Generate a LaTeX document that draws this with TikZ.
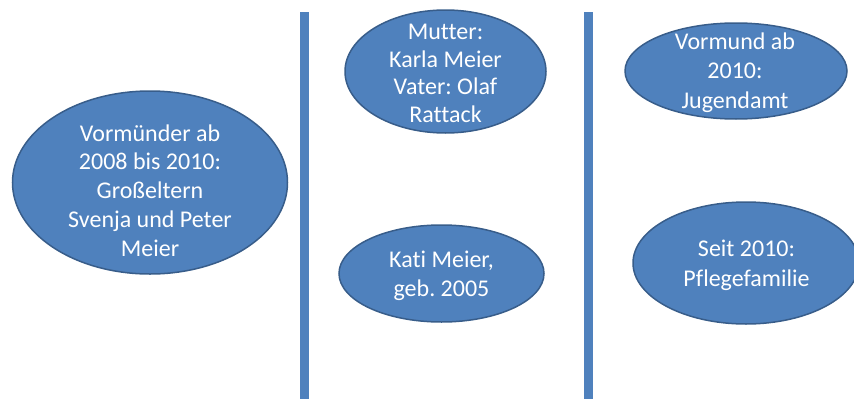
\documentclass[tikz,border=0pt]{standalone}
\usepackage{fontspec}
\setmainfont{Carlito}[Ligatures={NoCommon}]
\frenchspacing
\usetikzlibrary{shapes.geometric}
\definecolor{officeblue}{HTML}{4F81BD}
\definecolor{officeborder}{HTML}{385D8A}
\tikzset{
  bubble/.style={ellipse, draw=officeborder, fill=officeblue, line width=1.5pt,
    inner sep=0pt, text=white, align=center,
    font=\fontsize{24}{29}\selectfont},
  bar/.style={fill=officeblue, draw=none}
}
\begin{document}
\begin{tikzpicture}[x=1pt,y=-1pt]
\useasboundingbox (0,0) rectangle (854,399);
\clip (0,0) rectangle (854,399);
% vertical bars
\fill[bar] (300,12) rectangle (309,399);
\fill[bar] (584,12) rectangle (593,399);
% ellipses
\node[bubble, minimum width=275pt, minimum height=183pt] (grand) at (150,182.5) {};
\node[font=\fontsize{24}{28.8}\selectfont, text=white, align=center] (grandt) at (150,190.5)
  {Vormünder ab\\2008 bis 2010:\\Großeltern\\Svenja und Peter\\Meier};
\node[bubble, minimum width=201pt, minimum height=123pt] (parents) at (445.5,71.5) {};
\node[font=\fontsize{24}{27.7}\selectfont, text=white, align=center] (parentst) at (445.5,73.5)
  {Mutter:\\Karla Meier\\Vater: Olaf\\Rattack};
\node[bubble, minimum width=222pt, minimum height=96pt] (vormund) at (736,71) {};
\node[font=\fontsize{24}{29.5}\selectfont, text=white, align=center] (vormundt) at (735,72.5)
  {Vormund ab\\2010:\\Jugendamt};
\node[bubble, minimum width=205pt, minimum height=97pt] (kati) at (441.5,273.5) {};
\node[font=\fontsize{24}{28.5}\selectfont, text=white, align=center] (katit) at (441.5,276)
  {Kati Meier,\\geb. 2005};
\node[bubble, minimum width=226pt, minimum height=122pt] (pflege) at (746,263) {};
\node[font=\fontsize{24}{30}\selectfont, text=white, align=center] (pfleget) at (746.5,265)
  {Seit 2010:\\Pflegefamilie};
\end{tikzpicture}
\end{document}
